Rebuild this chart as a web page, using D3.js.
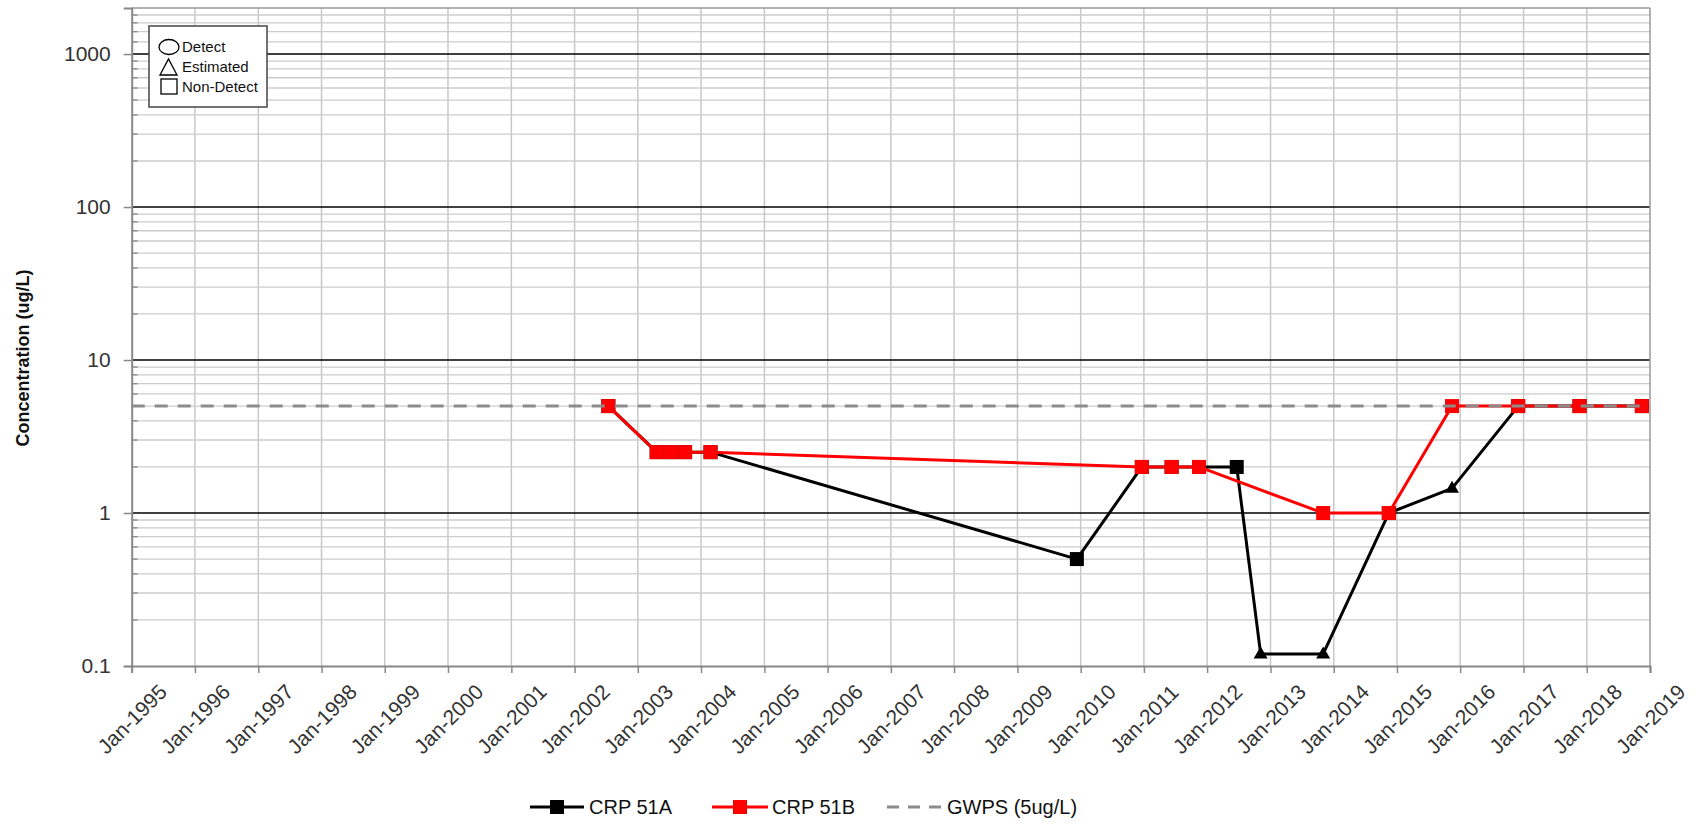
<!DOCTYPE html>
<html><head><meta charset="utf-8">
<script src="https://cdn.jsdelivr.net/npm/d3@7"></script>
<style>
body{margin:0;background:#fff;}
svg{display:block;font-family:"Liberation Sans",Arial,sans-serif;}
</style>
</head><body>
<svg id="chart" width="1697" height="826"></svg>
<script>
// ---------- data ----------
const yearTicks = d3.range(1995, 2020);
const yTickValues = [0.1, 1, 10, 100, 1000];
const seriesNames = ["CRP 51A", "CRP 51B", "GWPS (5ug/L)"];
const markerLegend = ["Detect", "Estimated", "Non-Detect"];

const crp51ADates = ["2002-07-15","2003-04-20","2003-07-10","2003-10-01","2004-02-25","2009-12-10","2010-12-20","2011-06-10","2011-11-15","2012-06-20","2012-11-05","2013-11-01","2014-11-15","2015-11-15","2016-12-01","2017-11-20","2018-11-15"];
const crp51AValues = [5, 2.5, 2.5, 2.5, 2.5, 0.5, 2, 2, 2, 2, 0.12, 0.12, 1, 1.45, 5, 5, 5];
const crp51AMarkers = ["square","square","square","square","square","square","square","square","square","square","triangle","triangle","square","triangle","square","square","square"];

const crp51BDates = ["2002-07-15","2003-04-20","2003-07-10","2003-10-01","2004-02-25","2010-12-20","2011-06-10","2011-11-15","2013-11-01","2014-11-15","2015-11-15","2016-12-01","2017-11-20","2018-11-15"];
const crp51BValues = [5, 2.5, 2.5, 2.5, 2.5, 2, 2, 2, 1, 1, 5, 5, 5, 5];
const crp51BMarkers = ["square","square","square","square","square","square","square","square","square","square","square","square","square","square"];

const gwpsValue = 5;

// ---------- layout ----------
const X0 = 131.7, X1 = 1650, Y0 = 666, Y1 = 8;
const svg = d3.select("#chart");
const parse = d3.utcParse("%Y-%m-%d");
const x = d3.scaleUtc().domain([new Date(Date.UTC(1995,0,1)), new Date(Date.UTC(2019,0,1))]).range([X0, X1]);
const y = d3.scaleLog().domain([0.1, 2000]).range([Y0, Y1]);

svg.append("rect").attr("width",1697).attr("height",826).attr("fill","#fff");

const g = svg.append("g");

// vertical grid
g.selectAll("line.vg").data(yearTicks.slice(1,-1)).join("line")
  .attr("x1", d => x(new Date(Date.UTC(d,0,1)))).attr("x2", d => x(new Date(Date.UTC(d,0,1))))
  .attr("y1", Y1).attr("y2", Y0).attr("stroke","#c8c8c8").attr("stroke-width",1.5);

// minor horizontal grid
const minorVals = [];
[0.1,1,10,100].forEach(dec => { for (let k=2;k<=9;k++) minorVals.push(dec*k); });
[1200,1400,1600,1800].forEach(v => minorVals.push(v));
g.selectAll("line.hg").data(minorVals).join("line")
  .attr("x1", X0).attr("x2", X1).attr("y1", d => y(d)).attr("y2", d => y(d))
  .attr("stroke","#cccccc").attr("stroke-width",1.3);
g.selectAll("line.mt").data(minorVals).join("line")
  .attr("x1", X0).attr("x2", X0+6).attr("y1", d => y(d)).attr("y2", d => y(d))
  .attr("stroke","#888").attr("stroke-width",1.3);

// major horizontal lines
g.selectAll("line.mg").data(yTickValues.slice(1)).join("line")
  .attr("x1", X0).attr("x2", X1).attr("y1", d => y(d)).attr("y2", d => y(d))
  .attr("stroke","#000").attr("stroke-width",1.6);

// border
g.append("line").attr("x1",X0).attr("x2",X1).attr("y1",Y1).attr("y2",Y1).attr("stroke","#999").attr("stroke-width",1.5);
g.append("line").attr("x1",X1).attr("x2",X1).attr("y1",Y1).attr("y2",Y0).attr("stroke","#999").attr("stroke-width",1.5);

// axes
const yAxis = d3.axisLeft(y).tickValues(yTickValues).tickSize(8).tickPadding(13)
  .tickFormat(d => d < 1 ? d3.format(".1f")(d) : d3.format("d")(d));
const ya = svg.append("g").attr("transform",`translate(${X0},0)`).call(yAxis);
ya.select(".domain").attr("stroke","#888").attr("stroke-width",2);
ya.selectAll(".tick line").attr("stroke","#888").attr("stroke-width",1.5);
ya.selectAll(".tick text").attr("font-size",21).attr("fill","#333").attr("font-family","Liberation Sans, Arial, sans-serif");

const xAxis = d3.axisBottom(x).tickValues(yearTicks.map(yr => new Date(Date.UTC(yr,0,1)))).tickSize(7)
  .tickFormat(d3.utcFormat("%b-%Y"));
const xa = svg.append("g").attr("transform",`translate(0,${Y0})`).call(xAxis);
xa.select(".domain").attr("stroke","#888").attr("stroke-width",2);
xa.selectAll(".tick line").attr("stroke","#888").attr("stroke-width",1.5);
xa.selectAll(".tick text").attr("font-size",21).attr("fill","#333").attr("font-family","Liberation Sans, Arial, sans-serif")
  .attr("text-anchor","middle").attr("y",0).attr("dy","0.35em")
  .attr("transform","translate(0,53) rotate(-45)");

// series
const line = d3.line().x(d => x(d.date)).y(d => y(d.value));
function series(dates, values, markers, color) {
  const data = dates.map((d,i) => ({date: parse(d), value: values[i], marker: markers[i]}));
  svg.append("path").datum(data).attr("d", line).attr("fill","none")
    .attr("stroke", color).attr("stroke-width",3).attr("stroke-linejoin","round");
  svg.selectAll(null).data(data.filter(d => d.marker === "square")).join("rect")
    .attr("x", d => x(d.date)-7).attr("y", d => y(d.value)-7).attr("width",14).attr("height",14).attr("fill", color);
  svg.selectAll(null).data(data.filter(d => d.marker === "triangle")).join("path")
    .attr("d", d => { const cx = x(d.date), cy = y(d.value); return `M${cx-7},${cy+4.5}L${cx+7},${cy+4.5}L${cx},${cy-7.5}Z`; })
    .attr("fill", color);
}
series(crp51ADates, crp51AValues, crp51AMarkers, "#000");
series(crp51BDates, crp51BValues, crp51BMarkers, "#ff0000");

// GWPS line
svg.append("line").attr("x1",X0).attr("x2",X1).attr("y1",y(gwpsValue)).attr("y2",y(gwpsValue))
  .attr("stroke","#8c8c8c").attr("stroke-width",3).attr("stroke-dasharray","13,10");

// y title
svg.append("text").attr("transform","translate(29,358) rotate(-90)").attr("text-anchor","middle")
  .attr("font-size",18).attr("font-weight","bold").attr("fill","#111").text("Concentration (ug/L)");

// marker legend box
const lb = svg.append("g");
lb.append("rect").attr("x",149).attr("y",26).attr("width",118).attr("height",81).attr("fill","#fff").attr("stroke","#444").attr("stroke-width",1.5);
lb.append("ellipse").attr("cx",169).attr("cy",47).attr("rx",10).attr("ry",7.5).attr("fill","none").attr("stroke","#000").attr("stroke-width",1.3);
lb.append("path").attr("d","M160,75L177,75L168.5,59Z").attr("fill","none").attr("stroke","#000").attr("stroke-width",1.3);
lb.append("rect").attr("x",161).attr("y",79).attr("width",16).attr("height",15).attr("fill","none").attr("stroke","#000").attr("stroke-width",1.3);
lb.selectAll("text").data(markerLegend).join("text")
  .attr("x",182).attr("y",(d,i) => 47 + i*20).attr("dy","0.35em").attr("font-size",15).attr("fill","#111").text(d => d);

// bottom legend
const leg = svg.append("g");
const ly = 807;
leg.append("line").attr("x1",530).attr("x2",584).attr("y1",ly).attr("y2",ly).attr("stroke","#000").attr("stroke-width",3);
leg.append("rect").attr("x",550).attr("y",ly-7).attr("width",14).attr("height",14).attr("fill","#000");
leg.append("text").attr("x",589).attr("y",ly).attr("dy","0.35em").attr("font-size",20).attr("fill","#111").text(seriesNames[0]);
leg.append("line").attr("x1",712).attr("x2",768).attr("y1",ly).attr("y2",ly).attr("stroke","#ff0000").attr("stroke-width",3);
leg.append("rect").attr("x",733).attr("y",ly-7).attr("width",14).attr("height",14).attr("fill","#ff0000");
leg.append("text").attr("x",772).attr("y",ly).attr("dy","0.35em").attr("font-size",20).attr("fill","#111").text(seriesNames[1]);
leg.append("line").attr("x1",887).attr("x2",942).attr("y1",ly).attr("y2",ly).attr("stroke","#8c8c8c").attr("stroke-width",3).attr("stroke-dasharray","12,9");
leg.append("text").attr("x",947).attr("y",ly).attr("dy","0.35em").attr("font-size",20).attr("fill","#111").text(seriesNames[2]);
</script>
</body></html>
